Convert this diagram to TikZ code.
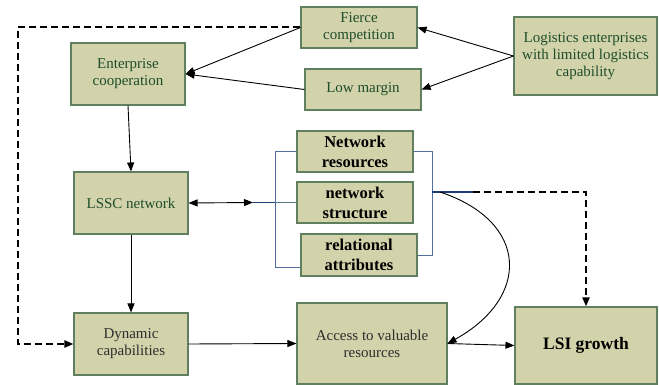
\documentclass[tikz,border=0pt]{standalone}
\usepackage{fontspec}
\setmainfont{Liberation Serif}
\usetikzlibrary{arrows.meta}
\definecolor{boxfill}{RGB}{210,211,171}
\definecolor{boxline}{RGB}{95,127,95}
\definecolor{txtgreen}{RGB}{30,77,43}
\definecolor{txtgray}{RGB}{45,45,45}
\definecolor{brk}{RGB}{80,110,160}
\definecolor{brkdark}{RGB}{30,60,120}
\tikzset{
  box/.style={draw=boxline, line width=1.1pt, fill=boxfill, inner sep=0pt, align=center,
    text=txtgreen, font=\fontsize{15}{17}\selectfont},
  graybox/.style={box, text=txtgray},
  boldbox/.style={box, text=black, font=\fontsize{16.5}{20}\selectfont\bfseries},
  arr/.style={-{Triangle[length=9pt,width=7pt]}, line width=0.9pt},
  dblarr/.style={{Triangle[length=9pt,width=7pt]}-{Triangle[length=9pt,width=7pt]}, line width=0.9pt},
  dasharr/.style={arr, line width=2pt, dash pattern=on 7pt off 4pt},
  brkline/.style={draw=brk, line width=0.8pt},
  brkthick/.style={draw=brkdark, line width=1.5pt},
}
\begin{document}
\begin{tikzpicture}[x=1pt,y=-1pt]
\useasboundingbox (0,0) rectangle (659,385);
% nodes
\node[box, minimum width=116pt, minimum height=41pt] (fierce) at (359,27.5) {Fierce\\competition};
\node[box, minimum width=116pt, minimum height=41pt] (low) at (363,89.5) {Low margin};
\node[box, minimum width=143pt, minimum height=78pt] (logi) at (585.5,56) {Logistics enterprises\\with limited logistics\\capability};
\node[box, minimum width=114pt, minimum height=62pt] (coop) at (128,74) {Enterprise\\cooperation};
\node[box, minimum width=114pt, minimum height=62pt] (lssc) at (131,203) {LSSC network};
\node[boldbox, minimum width=116pt, minimum height=41pt] (netres) at (355,151.5) {Network\\resources};
\node[boldbox, minimum width=116pt, minimum height=41pt] (netstr) at (355,202.5) {network\\structure};
\node[boldbox, minimum width=116pt, minimum height=42pt] (rel) at (359,255) {relational\\attributes};
\node[graybox, minimum width=114pt, minimum height=62pt] (dyn) at (131,344) {Dynamic\\capabilities};
\node[graybox, minimum width=150pt, minimum height=81pt] (access) at (372,343.5) {Access to valuable\\resources};
\node[boldbox, minimum width=142pt, minimum height=77pt, font=\fontsize{17.5}{20}\selectfont\bfseries] (lsi) at (586,345.5) {LSI growth};
% coordinates
\coordinate (jl) at (253,202.5);
\coordinate (bl) at (275,202.5);
\coordinate (jr) at (432,192);
\coordinate (jd) at (473,192);
\coordinate (dc) at (586,192);
\coordinate (dtl) at (18,27.5);
\coordinate (dbl) at (18,344);
\coordinate (cs) at (440,192);
% connectors
\draw[arr] (logi.west) -- (fierce.east);
\draw[arr] (logi.west) -- (low.east);
\draw[arr] (fierce.west) -- (coop.east);
\draw[arr] (low.west) -- (coop.east);
\draw[arr] (coop.south) -- (lssc.north);
\draw[arr] (lssc.south) -- (dyn.north);
\draw[dblarr] (lssc.east) -- (jl);
\draw[brkthick] (jl) -- (bl);
\draw[brkline] ([yshift=-12pt]rel.west) -| (275,151.5) -- (netres.west);
\draw[draw=brk!50!boxline, line width=0.8pt] (bl) -- (netstr.west);
\draw[brkline] (netres.east) -- (432,151.5) -- (432,255) -- (rel.east);
\draw[brkthick] (jr) -- (jd);
\draw[dasharr] (jd) -- (dc) -- (lsi.north);
\draw[arr] (cs) .. controls (530,222) and (530,298) .. (access.east);
\draw[arr] (dyn.east) -- (access.west);
\draw[arr] (access.east) -- (lsi.west);
\draw[dasharr] (fierce.west) -- (dtl) -- (dbl) -- (dyn.west);
\end{tikzpicture}
\end{document}
